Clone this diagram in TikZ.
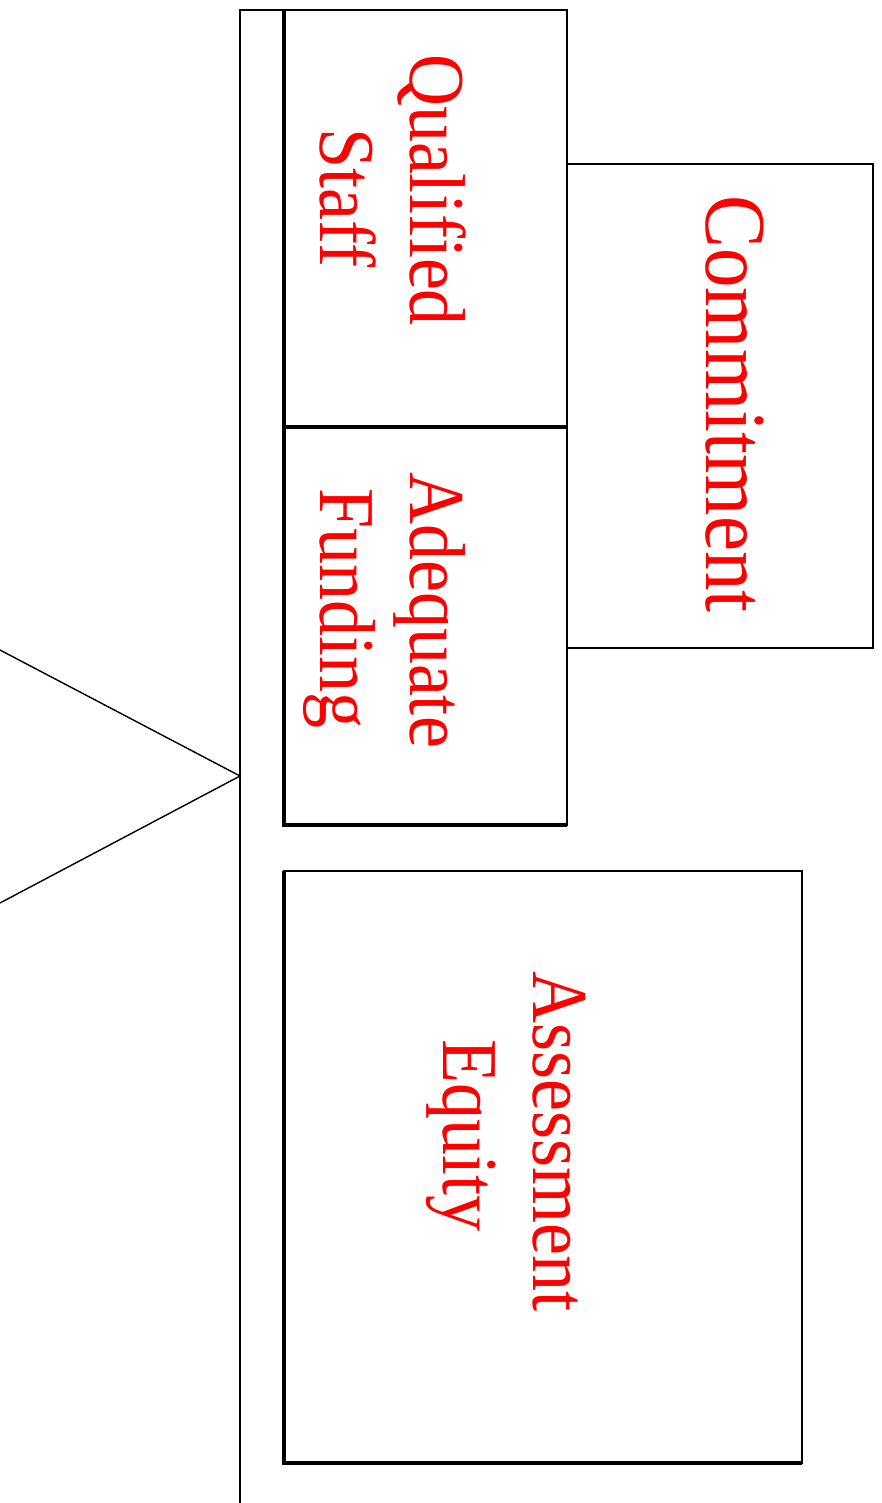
\documentclass[tikz,border=0pt]{standalone}
\usepackage{fontspec}
\setmainfont[Ligatures=NoCommon]{Liberation Serif}
\begin{document}
\begin{tikzpicture}[x=1pt,y=-1pt,
  thinline/.style={line width=1.4pt},
  thickedge/.style={line width=3.6pt},
  box/.style={draw, line width=1.4pt, rectangle, inner sep=0pt, outer sep=0pt},
  lbl/.style={text=red, rotate=-90, yscale=1.1, anchor=base, inner sep=0pt, font=\fontsize{72}{82}\selectfont},
]
\useasboundingbox (0,0) rectangle (881,1503);

% boxes
\node[box, minimum width=283pt, minimum height=417pt] (qs) at (425.5,218.5) {};
\node[box, minimum width=283pt, minimum height=398pt] (af) at (425.5,626) {};
\node[box, minimum width=306pt, minimum height=484pt] (cm) at (720,406) {};
\node[box, minimum width=518pt, minimum height=592pt] (ae) at (543,1167) {};

% thick left and bottom edges
\draw[thickedge] (qs.north west) -- (qs.south west) -- (qs.south east);
\draw[thickedge] (af.north west) -- (af.south west) -- (af.south east);
\draw[thickedge] (ae.north west) -- (ae.south west) -- (ae.south east);

% frame
\coordinate (ftop) at (240,10);
\coordinate (fbot) at (240,1503);
\draw[thinline] (fbot) -- (ftop) -- (qs.north west);

% wedge
\coordinate (wa) at (0,650);
\coordinate (apex) at (240,776);
\coordinate (wb) at (0,903);
\draw[thinline] (wa) -- (apex) -- (wb);

% labels
\node[lbl] (l1) at (410,190) {Qualified};
\node[lbl] (l2) at (320,198) {Staff};
\node[lbl] (l3) at (410,610) {Adequate};
\node[lbl] (l4) at (320,608.5) {Funding};
\node[lbl, font=\fontsize{79}{90}\selectfont] (l5) at (706,404) {Commitment};
\node[lbl] (l6) at (533,1141.5) {Assessment};
\node[lbl] (l7) at (443,1135.5) {Equity};
\end{tikzpicture}
\end{document}
